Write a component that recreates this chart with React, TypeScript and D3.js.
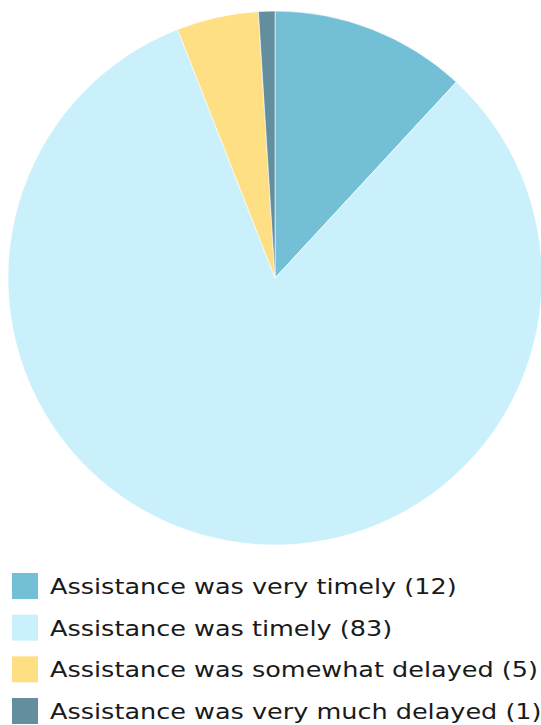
import React from "react";
import * as d3 from "d3";

const categories = [
  "Assistance was very timely",
  "Assistance was timely",
  "Assistance was somewhat delayed",
  "Assistance was very much delayed",
];
const values = [12, 83, 5, 1];
const colors = ["#73c0d6", "#c9f0fb", "#ffdf84", "#628e9e"];

const W = 541;
const H = 725;

export default function App() {
  const cx = 275;
  const cy = 278;
  const r = 267;
  const data = categories.map((c, i) => ({ c, v: values[i], color: colors[i] }));
  const pie = d3.pie<any>().value((d) => d.v).sort(null);
  const arc = d3.arc<any>().innerRadius(0).outerRadius(r);
  const arcs = pie(data);
  const legendY = d3.scaleLinear().domain([0, 3]).range([586, 711]);
  return (
    <svg
      width={W}
      height={H}
      style={{ position: "absolute", left: 0, top: 0, background: "#fff" }}
      fontFamily="'DejaVu Sans', sans-serif"
    >
      <g transform={`translate(${cx},${cy})`}>
        {arcs.map((a, i) => (
          <path key={i} d={arc(a) as string} fill={a.data.color} stroke="#ffffff" strokeWidth={0.6} />
        ))}
      </g>
      {data.map((d, i) => (
        <g key={i} transform={`translate(0,${legendY(i)})`}>
          <rect x={12} y={-13} width={26} height={26} fill={d.color} />
          <g transform="translate(50,0) scale(1.16,1)">
            <text x={0} y={0} dy="0.36em" fontSize={22} fill="#1a1a1a">
              {`${d.c} (${d.v})`}
            </text>
          </g>
        </g>
      ))}
    </svg>
  );
}
